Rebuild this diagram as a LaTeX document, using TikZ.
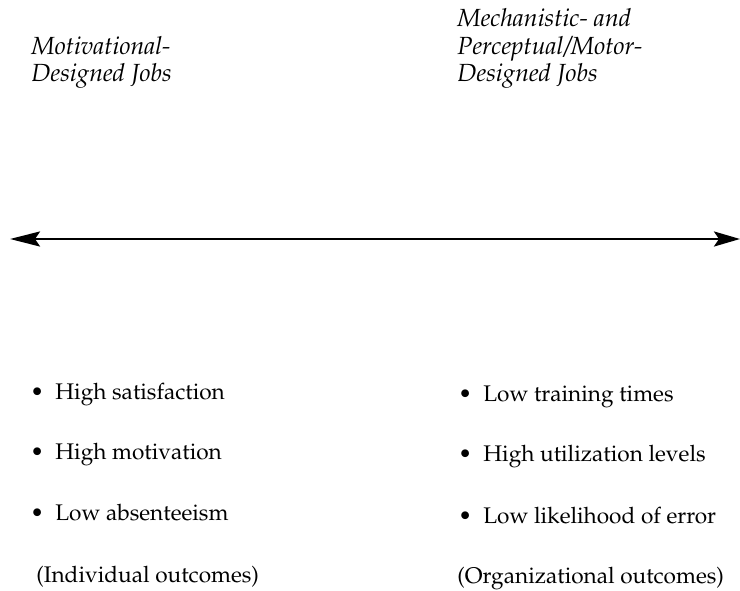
\documentclass[tikz,border=0pt]{standalone}
\usepackage[T1]{fontenc}
\usepackage{mathpazo}
\usepackage{tikz}
\usetikzlibrary{arrows.meta}

\tikzset{
  heading/.style={font=\itshape\fontsize{12.4}{13.8}\selectfont, align=left, inner sep=0pt, anchor=base west},
  outcome/.style={font=\fontsize{11.3}{13}\selectfont, inner sep=0pt, anchor=base west},
}

\begin{document}
\begin{tikzpicture}[x=0.5pt,y=0.5pt]
  \useasboundingbox (0,0) rectangle (740,590);
  % job design headings
  \node[heading] (motiv) at (31,508) {Motivational-\\Designed Jobs};
  \node[heading] (mech) at (457,508) {Mechanistic- and\\Perceptual/Motor-\\Designed Jobs};
  % continuum between the two
  \coordinate (leftend) at (10,351);
  \coordinate (rightend) at (740,351);
  \draw[line width=1.35pt, {Stealth[length=15pt,width=7.5pt,inset=2.5pt]}-{Stealth[length=13pt,width=7.5pt,inset=2.5pt]}] (leftend) -- (rightend);
  % individual outcomes
  \node[outcome] (satis) at (30,190) {\textbullet\enspace High satisfaction};
  \node[outcome] (motiv2) at (30,130) {\textbullet\enspace High motivation};
  \node[outcome] (absent) at (30,69) {\textbullet\enspace Low absenteeism};
  \node[outcome] (indiv) at (36,8) {(Individual outcomes)};
  % organizational outcomes
  \node[outcome] (train) at (458,188) {\textbullet\enspace Low training times};
  \node[outcome] (util) at (458,128) {\textbullet\enspace High utilization levels};
  \node[outcome] (error) at (458,67) {\textbullet\enspace Low likelihood of error};
  \node[outcome] (organ) at (457,7) {(Organizational outcomes)};
\end{tikzpicture}
\end{document}
